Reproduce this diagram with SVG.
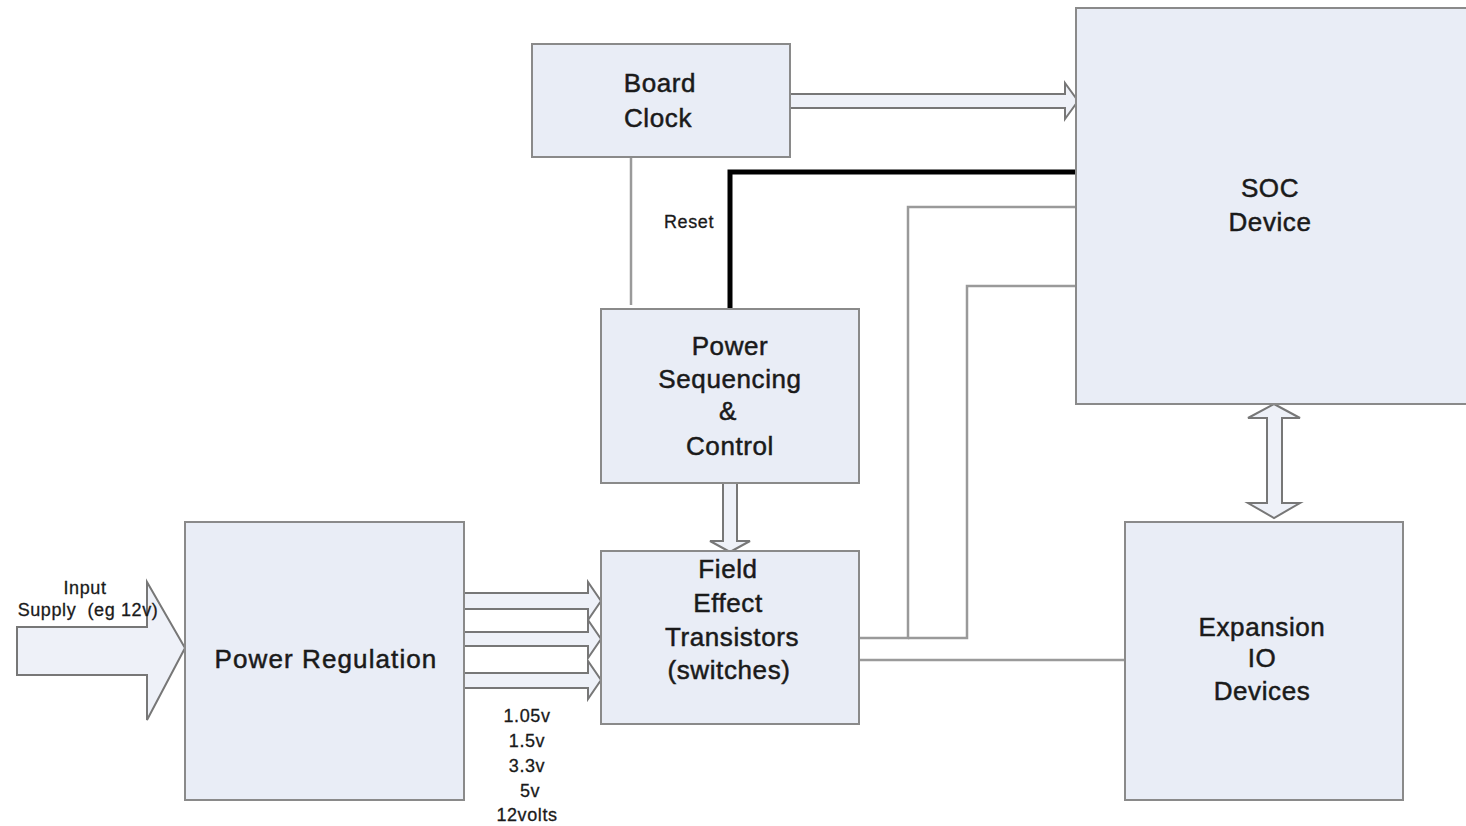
<svg xmlns="http://www.w3.org/2000/svg" width="1466" height="826" viewBox="0 0 1466 826">
  <style>
    .box { fill: #e9edf6; stroke: #8a8a8a; stroke-width: 2; }
    .lbl { font-family: "Liberation Sans", Arial, sans-serif; font-size: 26px; fill: #1a1a1a; stroke: #1a1a1a; stroke-width: 0.5px; text-anchor: middle; letter-spacing: 0.6px; }
    .small { font-family: "Liberation Sans", Arial, sans-serif; font-size: 18px; fill: #1a1a1a; stroke: #1a1a1a; stroke-width: 0.3px; text-anchor: middle; letter-spacing: 0.6px; white-space: pre; }
    .wire { fill: none; stroke: #9a9a9a; stroke-width: 2.5; }
    .reset { fill: none; stroke: #000; stroke-width: 5; }
    .bigarrow { fill: #eef1f8; stroke: #777; stroke-width: 2; stroke-linejoin: miter; }
  </style>
  <rect width="1466" height="826" fill="#ffffff"/>

  <!-- connectors -->
  <g id="connectors">
    <!-- board clock to power sequencing -->
    <line class="wire" x1="631" y1="157" x2="631" y2="305"/>
    <!-- reset line -->
    <path class="reset" d="M730,312 V172 H1078"/>
    <!-- FET outputs to SOC -->
    <path class="wire" d="M859,638 H908 V207 H1076"/>
    <path class="wire" d="M908,638 H967 V286 H1076"/>
    <!-- FET to expansion -->
    <line class="wire" x1="859" y1="660" x2="1125" y2="660"/>
    <!-- board clock to SOC (hollow arrow) -->
    <path class="bigarrow" d="M790,94 H1065 V83 L1078,101 L1065,119 V108 H790 Z"/>
    <!-- power sequencing to FET -->
    <path class="bigarrow" d="M723,483 V541 H710 L730,552 L750,541 H737 V483 Z"/>
    <!-- SOC to expansion, bidirectional -->
    <path class="bigarrow" d="M1274,404 L1300,418 H1282 V503 H1300 L1274,518 L1248,503 H1267 V418 H1248 Z"/>
    <!-- input supply -->
    <path class="bigarrow" d="M17,627 H147 V582 L185,648 L147,720 V675 H17 Z"/>
    <!-- regulated rails to FET -->
    <path class="bigarrow" d="M464,593 H588 V582 L601,601 L588,620 V609 H464 Z"/>
    <path class="bigarrow" d="M464,632 H588 V620 L601,639 L588,658 V646 H464 Z"/>
    <path class="bigarrow" d="M464,673 H588 V661 L601,680 L588,699 V688 H464 Z"/>
  </g>

  <g id="board-clock">
    <rect class="box" x="532" y="44" width="258" height="113"/>
    <text class="lbl" x="660" y="92">Board</text>
    <text class="lbl" x="658" y="127">Clock</text>
  </g>

  <g id="soc-device">
    <rect class="box" x="1076" y="8" width="392" height="396"/>
    <text class="lbl" x="1270" y="197">SOC</text>
    <text class="lbl" x="1270" y="231">Device</text>
  </g>

  <g id="power-sequencing">
    <rect class="box" x="601" y="309" width="258" height="174"/>
    <text class="lbl" x="730" y="355">Power</text>
    <text class="lbl" x="730" y="388">Sequencing</text>
    <text class="lbl" x="728" y="420">&amp;</text>
    <text class="lbl" x="730" y="455">Control</text>
  </g>

  <g id="fet">
    <rect class="box" x="601" y="551" width="258" height="173"/>
    <text class="lbl" x="728" y="578">Field</text>
    <text class="lbl" x="728" y="612">Effect</text>
    <text class="lbl" x="732" y="646">Transistors</text>
    <text class="lbl" x="729" y="679">(switches)</text>
  </g>

  <g id="power-regulation">
    <rect class="box" x="185" y="522" width="279" height="278"/>
    <text class="lbl" x="326" y="668" style="letter-spacing:1.1px">Power Regulation</text>
  </g>

  <g id="expansion-io">
    <rect class="box" x="1125" y="522" width="278" height="278"/>
    <text class="lbl" x="1262" y="636">Expansion</text>
    <text class="lbl" x="1262" y="667">IO</text>
    <text class="lbl" x="1262" y="700">Devices</text>
  </g>

  <!-- free labels -->
  <g id="labels">
    <text class="small" x="689" y="228">Reset</text>
    <text class="small" x="85" y="594">Input</text>
    <text class="small" x="88" y="616">Supply  (eg 12v)</text>
    <text class="small" x="527" y="722">1.05v</text>
    <text class="small" x="527" y="747">1.5v</text>
    <text class="small" x="527" y="772">3.3v</text>
    <text class="small" x="530" y="797">5v</text>
    <text class="small" x="527" y="821">12volts</text>
  </g>
</svg>
